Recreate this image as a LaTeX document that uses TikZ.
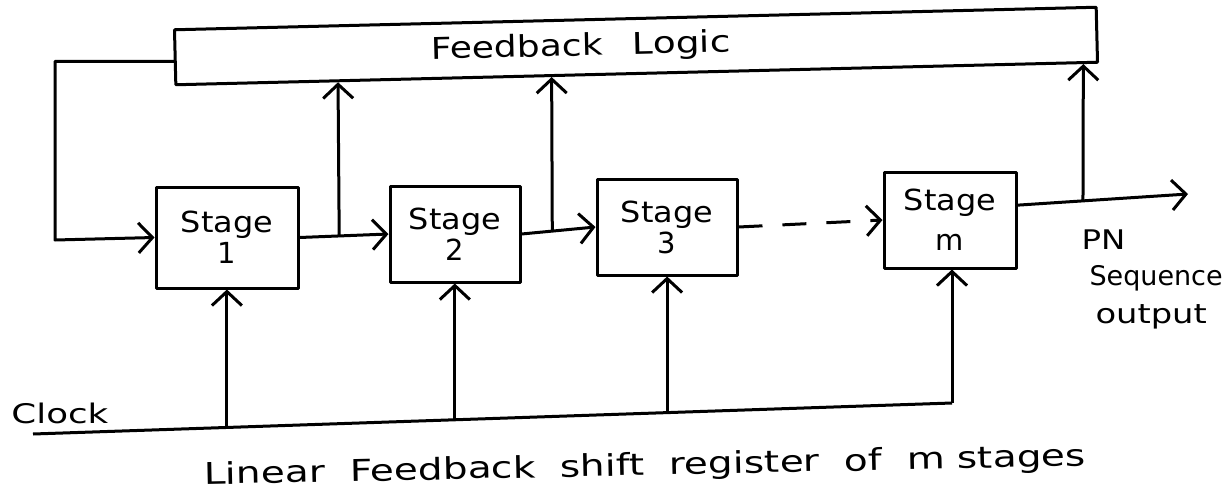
\documentclass[tikz,border=0pt]{standalone}
\usepackage{fontspec}
\usepackage{graphicx}
\setmainfont{DejaVu Sans}
\usetikzlibrary{arrows.meta,calc}
\newcommand\handw[2][1.1]{\scalebox{#1}[1]{#2}}
\begin{document}
\begin{tikzpicture}[x=1pt,y=1pt,
  line width=3pt, line join=round,
  arr/.style={-{Straight Barb[length=14pt,width=30pt]}},
  txt/.style={font=\fontsize{27}{34}\selectfont, inner sep=0pt},
  stagebox/.style={draw, minimum width=134pt, minimum height=97pt,
    inner sep=0pt, align=center, font=\fontsize{29}{31}\selectfont}]
\useasboundingbox (0,0) rectangle (1229,-493);

% feedback logic block
\node[draw, minimum width=922pt, minimum height=55pt, rotate=1.4,
      font=\fontsize{30}{32}\selectfont] (fb) at (636,-46)
      {\hspace*{-110pt}\handw[1.2]{Feedback}\hspace{30pt}\handw[1.25]{Logic}};

% register stages
\node[stagebox, minimum width=142pt, minimum height=101pt] (s1) at (227,-237.5) {\handw{Stage}\\1};
\node[stagebox, minimum width=130pt, minimum height=96pt]  (s2) at (455,-234)   {\handw{Stage}\\2};
\node[stagebox, minimum width=140pt, minimum height=96pt]  (s3) at (667,-227)   {\handw{Stage}\\3};
\node[stagebox, minimum width=132pt, minimum height=96pt, font=\fontsize{29}{36}\selectfont]  (sm) at (950,-220)
  {\raisebox{4pt}{\handw{Stage}}\\m};

% feedback path into stage 1
\coordinate (fbl) at ($(fb.north west)!0.57!(fb.south west)$);
\coordinate (lc) at (55,-240);
\draw[arr] (fbl) -| (lc) -- (s1.west);

% stage to stage
\draw[arr] (s1.east) -- (s2.west);
\draw[arr] (s2.east) -- (s3.west);
\draw[arr, dash pattern=on 24pt off 20pt] (s3.east) -- (sm.west);

% taps into the feedback logic
\coordinate (t1) at ($(s1.east)!0.446!(s2.west)$);
\coordinate (t2) at ($(s2.east)!0.416!(s3.west)$);
\coordinate (smo) at ($(sm.north east)!0.35!(sm.south east)$);
\coordinate (out) at (1188,-194);
\coordinate (t3) at ($(smo)!0.384!(out)$);
\draw[arr] (smo) -- (out);
\draw[arr] (t1) -- ($(fb.south west)!0.177!(fb.south east)$);
\draw[arr] (t2) -- ($(fb.south west)!0.408!(fb.south east)$);
\draw[arr] (t3) -- ($(fb.south west)!0.983!(fb.south east)$);

% output label
\node[txt, anchor=west] (pn) at (1080,-240) {\handw[1.2]{PN}};
\node[txt, anchor=west] (seq) at (1088,-278) {\handw[1.0]{Sequence}};
\node[txt, anchor=west] (op) at (1094,-317) {\handw[1.25]{output}};

% clock line and clock inputs
\coordinate (ck0) at (33,-434);
\coordinate (ck1) at (952,-403);
\draw (ck0) -- (ck1);
\node[txt, anchor=west] (clk) at (10,-413) {\handw[1.32]{Clock}};
\coordinate (c1) at ($(ck0)!0.211!(ck1)$);
\coordinate (c2) at ($(ck0)!0.459!(ck1)$);
\coordinate (c3) at ($(ck0)!0.690!(ck1)$);
\draw[arr] (c1) -- (c1 |- s1.south);
\draw[arr] (c2) -- (c2 |- s2.south);
\draw[arr] (c3) -- (c3 |- s3.south);
\draw[arr] (ck1) -- (ck1 |- sm.south);

% caption
\node[font=\fontsize{30}{32}\selectfont, inner sep=0pt, rotate=1.2] (cap) at (645,-467)
  {\handw[1.3]{Linear\ \ Feedback\ \ shift\ \ register\ \ of\ \ m\ stages}};
\end{tikzpicture}
\end{document}
